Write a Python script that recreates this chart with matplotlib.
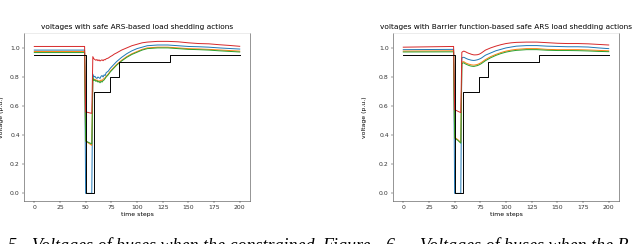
import matplotlib
matplotlib.use("Agg")
import matplotlib.pyplot as plt

# time steps sampled where the curves change
t = [0, 49, 50, 53, 56, 57, 58, 59, 60, 61, 62, 63, 64, 65, 66, 67, 68, 69, 70,
     72, 74, 76, 78, 80, 85, 90, 95, 100, 105, 110, 120, 130, 140, 150, 160,
     170, 180, 190, 200]

# left: safe ARS-based load shedding
safe_blue = [0.985, 0.985, 0.0, 0.0, 0.0, 0.82, 0.80, 0.805, 0.795, 0.79, 0.80, 0.795,
             0.79, 0.805, 0.81, 0.80, 0.815, 0.81, 0.83, 0.84, 0.86, 0.875, 0.89, 0.905,
             0.935, 0.96, 0.98, 0.995, 1.005, 1.015, 1.02, 1.02, 1.015, 1.01, 1.008,
             1.005, 1.0, 0.996, 0.992]
safe_orange = [0.975, 0.975, 0.36, 0.345, 0.33, 0.79, 0.78, 0.785, 0.775, 0.78, 0.77,
               0.775, 0.77, 0.78, 0.775, 0.785, 0.79, 0.795, 0.805, 0.82, 0.84, 0.855,
               0.87, 0.885, 0.915, 0.94, 0.96, 0.975, 0.99, 1.0, 1.005, 1.005, 1.0,
               0.995, 0.993, 0.99, 0.986, 0.982, 0.978]
safe_green = [0.968, 0.968, 0.36, 0.35, 0.34, 0.80, 0.775, 0.78, 0.77, 0.775, 0.765,
              0.77, 0.76, 0.77, 0.765, 0.775, 0.78, 0.79, 0.80, 0.815, 0.835, 0.85,
              0.865, 0.88, 0.91, 0.935, 0.955, 0.97, 0.985, 0.995, 1.0, 1.0, 0.995,
              0.99, 0.988, 0.985, 0.98, 0.976, 0.972]
safe_red = [1.01, 1.01, 0.56, 0.555, 0.55, 0.94, 0.925, 0.92, 0.915, 0.92, 0.912, 0.918,
            0.91, 0.915, 0.918, 0.912, 0.92, 0.918, 0.925, 0.93, 0.94, 0.948, 0.958,
            0.965, 0.985, 1.0, 1.015, 1.025, 1.035, 1.04, 1.045, 1.045, 1.042, 1.035,
            1.03, 1.028, 1.022, 1.017, 1.011]

# right: barrier function-based safe ARS
bar_blue = [0.988, 0.99, 0.0, 0.0, 0.0, 0.93, 0.935, 0.935, 0.932, 0.928, 0.925, 0.922,
            0.92, 0.918, 0.916, 0.915, 0.914, 0.914, 0.915, 0.918, 0.923, 0.93, 0.94,
            0.95, 0.965, 0.98, 0.99, 1.0, 1.006, 1.012, 1.016, 1.016, 1.012, 1.01,
            1.008, 1.008, 1.006, 1.0, 0.995]
bar_orange = [0.978, 0.98, 0.385, 0.37, 0.35, 0.90, 0.905, 0.905, 0.90, 0.896, 0.893,
              0.89, 0.888, 0.886, 0.884, 0.883, 0.882, 0.882, 0.883, 0.886, 0.892, 0.90,
              0.91, 0.92, 0.94, 0.955, 0.968, 0.978, 0.985, 0.99, 0.995, 0.995, 0.99,
              0.988, 0.988, 0.988, 0.986, 0.983, 0.98]
bar_green = [0.972, 0.973, 0.38, 0.365, 0.345, 0.89, 0.897, 0.897, 0.892, 0.888, 0.885,
             0.882, 0.879, 0.877, 0.875, 0.874, 0.873, 0.873, 0.875, 0.878, 0.884, 0.892,
             0.902, 0.912, 0.932, 0.948, 0.961, 0.971, 0.978, 0.983, 0.988, 0.988,
             0.984, 0.982, 0.982, 0.981, 0.979, 0.976, 0.974]
bar_red = [1.005, 1.01, 0.575, 0.565, 0.555, 0.97, 0.975, 0.978, 0.975, 0.972, 0.968,
           0.965, 0.962, 0.96, 0.957, 0.955, 0.953, 0.952, 0.952, 0.953, 0.957, 0.965,
           0.975, 0.985, 1.0, 1.012, 1.022, 1.03, 1.035, 1.038, 1.04, 1.04, 1.036,
           1.032, 1.03, 1.03, 1.028, 1.024, 1.02]

# voltage recovery envelope (steps)
env_t = [0, 50, 58, 74, 82, 132, 200]
env_v = [0.95, 0.0, 0.7, 0.8, 0.9, 0.95, 0.95]

titles = ["voltages with safe ARS-based load shedding actions",
          "voltages with Barrier function-based safe ARS load shedding actions"]

W, H = 640, 244
fig = plt.figure(figsize=(6.4, 2.44), dpi=100)


def make_axes(x0, x1, y0, y1):
    return fig.add_axes([x0 / W, 1 - y1 / H, (x1 - x0) / W, (y1 - y0) / H])


axes = [make_axes(24, 250, 33, 201), make_axes(393, 619, 33, 201)]
series = [(safe_blue, safe_orange, safe_green, safe_red),
          (bar_blue, bar_orange, bar_green, bar_red)]
label_x = [-0.088, -0.113]

for ax, (b, o, g, r), title, lx in zip(axes, series, titles, label_x):
    lw = 0.7
    ax.plot(t, b, color="tab:blue", lw=lw)
    ax.plot(t, o, color="tab:orange", lw=lw)
    ax.plot(t, g, color="tab:green", lw=lw)
    ax.plot(t, r, color="tab:red", lw=lw)
    ax.step(env_t, env_v, where="post", color="black", lw=lw)
    ax.set_xlim(-10, 210)
    ax.set_ylim(-0.0525, 1.1025)
    ax.set_xticks(range(0, 201, 25))
    ax.set_yticks([0.0, 0.2, 0.4, 0.6, 0.8, 1.0])
    ax.tick_params(labelsize=4.4, length=1.5, width=0.35, pad=1.5,
                   colors="#333333")
    for s in ax.spines.values():
        s.set_linewidth(0.4)
        s.set_color("#444444")
    ax.spines["top"].set_color("#dddddd")
    ax.set_title(title, fontsize=5.3, pad=3)
    ax.set_xlabel("time steps", fontsize=4.4, labelpad=1.5)
    ax.set_ylabel("voltage (p.u.)", fontsize=4.4)
    ax.yaxis.set_label_coords(lx, 0.5)

# clipped figure captions at the bottom of the crop
cap = dict(fontsize=13, style="italic", family="Liberation Serif",
           va="baseline", color="black")
yb = 1 - 251 / H
fig.text(8 / W, yb, "5.", **cap)
fig.text(32 / W, yb, "Voltages of buses when the constrained", **cap)
fig.text(322 / W, yb, "Figure", **cap)
fig.text(385 / W, yb, "6.", **cap)
fig.text(420 / W, yb, "Voltages of buses when the B", **cap)

fig.savefig("out.png", dpi=100)
